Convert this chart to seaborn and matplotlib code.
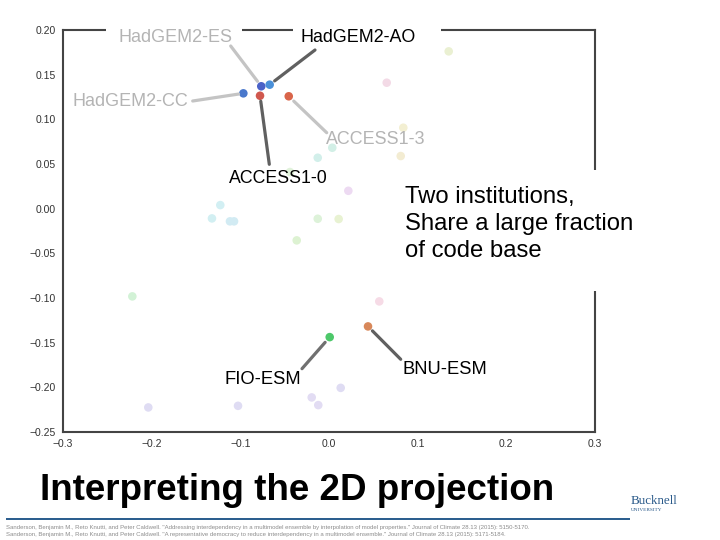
import matplotlib
matplotlib.use("Agg")
import matplotlib.pyplot as plt
from matplotlib.patches import Rectangle
import pandas as pd
import seaborn as sns

# highlighted models
hi_names = ["HadGEM2-ES", "HadGEM2-AO", "HadGEM2-CC", "ACCESS1-0", "ACCESS1-3", "FIO-ESM", "BNU-ESM"]
hi_x = [-0.0764, -0.0669, -0.0966, -0.0778, -0.0454, 0.0008, 0.0440]
hi_y = [0.1370, 0.1388, 0.1291, 0.1264, 0.1258, -0.1438, -0.1318]
hi_colors = ["#4a62c8", "#4a90d9", "#4a78cc", "#d0584e", "#d9654a", "#4dc86a", "#d8885a"]

# the other models, washed out
bg_x = [0.0037, -0.0127, -0.0440, 0.0218, -0.1226, -0.1320, -0.1117, -0.1071, -0.0127, 0.0109, -0.0364,
        0.1350, 0.0651, 0.0838, 0.0809, -0.2218, -0.2038, -0.1026, -0.0195, -0.0121, 0.0132, 0.0567]
bg_y = [0.0682, 0.0570, 0.0410, 0.0200, 0.0040, -0.0109, -0.0142, -0.0142, -0.0113, -0.0116, -0.0355,
        0.1761, 0.1410, 0.0906, 0.0589, -0.0982, -0.2225, -0.2207, -0.2113, -0.2199, -0.2006, -0.1038]
bg_colors = ["#d2efe6", "#d2efea", "#e0f2da", "#eddaf2", "#d2eff3", "#d2eff2", "#d2ebf3", "#d2ebf3",
             "#ddf2d9", "#e8f2d2", "#ddf2d2", "#eaf0d2", "#f3dae6", "#f3efd2", "#f3ecd2", "#d2f2d6",
             "#dfdcf3", "#dfdcf3", "#e2dcf3", "#e2dcf3", "#dfdcf3", "#f6dbe6"]

x_ticks = [-0.3, -0.2, -0.1, 0.0, 0.1, 0.2, 0.3]
y_ticks = [0.20, 0.15, 0.10, 0.05, 0.00, -0.05, -0.10, -0.15, -0.20, -0.25]

W, H = 720, 540
SPINE = "#444444"


def fig_xy(px, py):
    return px / W, 1 - py / H


sns.set_style("white")
plt.rcParams["font.family"] = ["Liberation Sans", "DejaVu Sans"]

fig = plt.figure(figsize=(7.2, 5.4), dpi=100)
ax = fig.add_axes([63 / W, 1 - 432 / H, (595 - 63) / W, (432 - 30) / H])

df = pd.DataFrame({"x": bg_x + hi_x, "y": bg_y + hi_y, "c": bg_colors + hi_colors})
df["id"] = range(len(df))
sns.scatterplot(data=df, x="x", y="y", hue="id", palette=list(df["c"]), s=38,
                linewidth=0, legend=False, ax=ax, clip_on=False)

ax.set_xlim(-0.3, 0.3)
ax.set_ylim(-0.25, 0.20)
ax.set_xticks(x_ticks)
ax.set_yticks(y_ticks)
ax.set_xticklabels([f"{v:.1f}".replace("-", "\u2212") for v in x_ticks])
ax.set_yticklabels([f"{v:.2f}".replace("-", "\u2212") for v in y_ticks])
ax.tick_params(labelsize=7.5, labelcolor="#333333", length=0, pad=5)
ax.set_xlabel("")
ax.set_ylabel("")
for s in ax.spines.values():
    s.set_visible(True)
    s.set_color(SPINE)
    s.set_linewidth(1.5)

# leader lines, start of line in slide pixels, end at the model's point
leaders = [
    (0, (230.7, 46), "#c4c4c4", 4.5),
    (1, (315, 50), "#606060", 4.5),
    (2, (192.7, 101), "#c4c4c4", 3.5),
    (3, (269.3, 164.3), "#606060", 4.0),
    (4, (326.7, 132.7), "#c4c4c4", 5.0),
    (5, (302, 368.7), "#707070", 5.0),
    (6, (400.7, 359.3), "#606060", 4.5),
]
for i, start, col, gap in leaders:
    ax.annotate("", xy=(hi_x[i], hi_y[i]), xycoords="data",
                xytext=fig_xy(*start), textcoords="figure fraction",
                arrowprops=dict(arrowstyle="-", color=col, lw=2.3, shrinkA=0, shrinkB=gap))

# white boxes sit over the frame of the plot
for px, py, w, h in [(106, 20, 136, 24), (293, 20, 148, 24), (400, 170, 245, 121)]:
    fig.add_artist(Rectangle(fig_xy(px, py + h), w / W, h / H, transform=fig.transFigure,
                             fc="white", ec="none", zorder=1))


def label(px, py, txt, size, color="black", **kw):
    fx, fy = fig_xy(px, py)
    return fig.text(fx, fy, txt, fontsize=size, color=color, va="center", zorder=3, **kw)


label(119, 38, "HadGEM2-ES", 13, "#b4b4b4")
label(301, 37.5, "HadGEM2-AO", 12.9)
label(73, 102, "HadGEM2-CC", 13, "#b4b4b4")
label(326, 140, "ACCESS1-3", 12.9, "#b4b4b4")
label(229, 178.5, "ACCESS1-0", 12.8)
label(225, 379.5, "FIO-ESM", 13.2)
label(403, 370, "BNU-ESM", 13.2)
label(405, 224, "Two institutions,\nShare a large fraction\nof code base", 17.2, linespacing=1.27)

label(40, 491, "Interpreting the 2D projection", 26.5, fontweight="bold")

fig.add_artist(Rectangle(fig_xy(6, 520), 624 / W, 2.4 / H, transform=fig.transFigure,
                         fc="#2d5f8f", ec="none", zorder=1))
label(6, 527, "Sanderson, Benjamin M., Reto Knutti, and Peter Caldwell. \"Addressing interdependency in a multimodel "
      "ensemble by interpolation of model properties.\" Journal of Climate 28.13 (2015): 5150-5170.", 4.3, "#8c8c8c")
label(6, 534.5, "Sanderson, Benjamin M., Reto Knutti, and Peter Caldwell. \"A representative democracy to reduce "
      "interdependency in a multimodel ensemble.\" Journal of Climate 28.13 (2015): 5171-5184.", 4.3, "#8c8c8c")

label(631, 501, "Bucknell", 9.4, "#2a5a8a", family="Liberation Serif")
label(631, 510, "UNIVERSITY", 3.8, "#2a5a8a", family="Liberation Serif")

fig.savefig("out.png", dpi=100)
